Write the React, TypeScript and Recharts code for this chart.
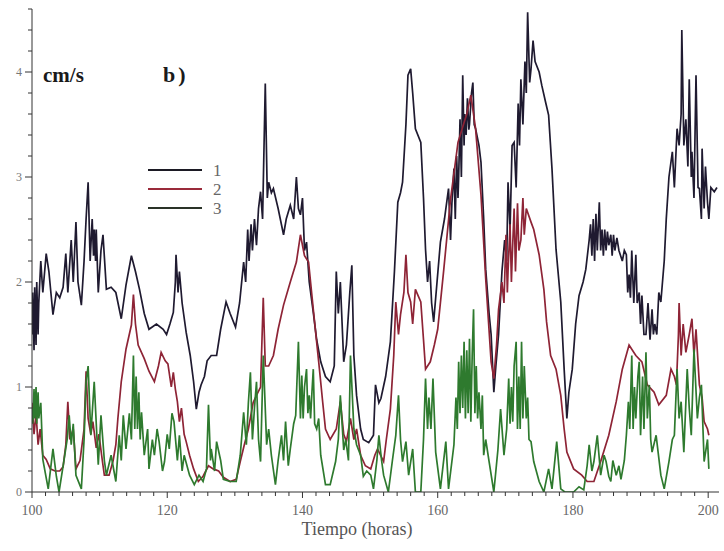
import React from "react";
import { LineChart, Line, XAxis, YAxis } from "recharts";

// time (hours) , speed (cm/s)
const series1: [number, number][] = [
  [100.0, 1.5], [100.1, 1.9], [100.3, 1.35], [100.4, 1.95], [100.6, 1.4], [100.7, 2.0], [100.9, 1.5], [101.0, 1.8],
  [101.3, 2.2], [101.6, 1.9], [102.1, 2.27], [102.5, 2.1], [103.1, 1.69], [103.6, 1.9], [104.1, 1.85], [104.6, 1.95],
  [105.0, 2.27], [105.3, 1.9], [105.8, 2.4], [106.1, 2.0], [106.5, 2.57], [106.8, 2.0], [107.3, 1.78], [107.7, 2.2],
  [108.0, 2.6], [108.3, 2.95], [108.6, 2.2], [108.9, 2.6], [109.1, 2.25], [109.2, 2.5], [109.4, 2.2], [109.5, 2.5],
  [109.8, 1.9], [110.2, 2.3], [110.5, 2.45], [111.0, 1.93], [111.7, 1.95], [112.4, 1.9], [113.2, 1.65], [113.9, 1.97],
  [114.7, 2.25], [115.3, 2.1], [115.9, 1.93], [116.6, 1.7], [117.3, 1.55], [118.4, 1.6], [119.4, 1.55], [119.9, 1.5],
  [120.4, 1.6], [120.9, 1.71], [121.2, 2.0], [121.3, 2.26], [121.6, 1.9], [121.8, 2.1], [122.2, 1.8], [122.8, 1.52],
  [123.4, 1.3], [123.9, 1.05], [124.3, 0.79], [124.7, 0.95], [125.0, 1.02], [125.5, 1.1], [125.9, 1.25], [126.5, 1.3],
  [127.3, 1.3], [127.9, 1.55], [128.7, 1.81], [129.3, 1.7], [130.1, 1.57], [130.7, 1.8], [131.3, 2.19], [131.6, 2.0],
  [131.9, 2.5], [132.1, 2.2], [132.4, 2.55], [132.6, 2.3], [132.9, 2.6], [133.2, 2.35], [133.5, 2.7], [133.8, 2.86],
  [134.1, 2.6], [134.5, 3.89], [134.8, 2.8], [135.0, 2.95], [135.4, 2.85], [135.7, 2.89], [136.4, 2.7], [137.2, 2.45],
  [137.6, 2.6], [138.2, 2.73], [138.7, 2.6], [139.1, 3.0], [139.4, 2.7], [139.7, 2.64], [140.0, 2.8], [140.3, 2.3],
  [140.6, 2.38], [141.0, 2.0], [141.6, 1.71], [142.1, 1.45], [142.7, 1.24], [143.4, 1.1], [144.1, 1.05], [144.7, 1.2],
  [145.0, 2.1], [145.3, 1.7], [145.6, 2.0], [146.1, 1.24], [146.5, 1.4], [147.0, 1.9], [147.3, 2.16], [147.6, 1.3],
  [148.0, 0.92], [148.6, 0.6], [149.0, 0.5], [149.8, 0.47], [150.5, 0.54], [150.8, 1.02], [151.3, 0.85], [151.6, 0.89],
  [152.3, 1.1], [153.0, 1.43], [153.6, 2.1], [154.1, 2.76], [154.5, 2.85], [154.8, 2.95], [155.3, 3.5], [155.6, 3.97],
  [156.0, 4.03], [156.3, 3.8], [156.7, 3.46], [157.5, 3.33], [157.9, 2.8], [158.2, 2.31], [158.5, 2.0], [158.8, 2.2],
  [159.1, 1.8], [159.4, 1.62], [159.9, 2.0], [160.4, 2.38], [161.0, 2.6], [161.6, 2.89], [161.9, 2.4], [162.1, 2.75],
  [162.4, 3.08], [162.6, 2.6], [162.8, 3.2], [163.0, 2.8], [163.1, 3.0], [163.3, 3.55], [163.5, 3.0], [163.7, 3.97],
  [163.9, 3.3], [164.0, 3.6], [164.2, 3.4], [164.4, 3.75], [164.6, 3.45], [164.7, 3.5], [165.0, 3.8], [165.2, 3.9],
  [165.4, 3.5], [165.6, 3.46], [166.1, 3.3], [166.4, 3.14], [166.8, 2.6], [167.1, 2.12], [167.6, 1.7], [167.9, 1.5],
  [168.3, 0.95], [168.6, 1.2], [169.0, 1.5], [169.5, 2.1], [169.9, 2.4], [170.2, 2.2], [170.4, 2.95], [170.7, 2.5],
  [171.0, 3.3], [171.3, 3.33], [171.6, 2.9], [171.9, 3.7], [172.1, 3.3], [172.3, 3.93], [172.6, 3.5], [172.9, 4.1],
  [173.1, 3.8], [173.3, 4.57], [173.6, 3.9], [173.8, 4.03], [174.1, 4.3], [174.4, 4.1], [175.0, 4.0], [175.4, 3.87],
  [176.0, 3.7], [176.4, 3.59], [176.9, 3.08], [177.5, 2.31], [178.2, 1.81], [178.7, 1.17], [179.1, 0.7], [179.4, 0.95],
  [179.9, 1.17], [180.4, 1.6], [180.9, 1.87], [181.5, 2.0], [181.9, 2.12], [182.4, 2.4], [182.6, 2.55], [182.8, 2.25],
  [183.0, 2.6], [183.2, 2.2], [183.4, 2.65], [183.6, 2.3], [183.9, 2.76], [184.1, 2.3], [184.3, 2.5], [184.5, 2.25],
  [184.7, 2.5], [184.9, 2.3], [185.1, 2.48], [185.3, 2.35], [185.6, 2.45], [185.8, 2.25], [186.0, 2.45], [186.2, 2.3],
  [186.5, 2.42], [186.8, 2.3], [187.3, 2.2], [187.6, 2.3], [187.9, 2.26], [188.1, 1.9], [188.3, 2.07], [188.5, 1.85],
  [188.7, 2.3], [189.0, 1.8], [189.3, 2.26], [189.5, 1.8], [189.8, 1.9], [190.0, 1.6], [190.2, 1.87], [190.5, 1.5],
  [190.8, 1.5], [191.1, 1.8], [191.4, 1.45], [191.7, 1.74], [191.9, 1.5], [192.1, 1.6], [192.4, 1.5], [192.7, 1.9],
  [193.0, 1.81], [193.5, 2.2], [193.8, 2.6], [194.2, 3.0], [194.7, 3.24], [195.0, 2.9], [195.4, 3.46], [195.7, 3.3],
  [196.0, 3.6], [196.1, 4.4], [196.4, 3.3], [196.7, 3.55], [197.0, 3.1], [197.2, 3.93], [197.5, 3.0], [197.6, 3.24],
  [197.9, 2.8], [198.2, 3.97], [198.5, 2.9], [198.7, 2.89], [199.0, 2.6], [199.1, 3.27], [199.4, 2.7], [199.6, 3.1],
  [199.9, 2.76], [200.1, 2.6], [200.4, 2.9], [200.9, 2.86], [201.3, 2.9],
];

const series2: [number, number][] = [
  [100.0, 0.85], [100.3, 0.55], [100.6, 0.75], [100.9, 0.45], [101.2, 0.6], [101.6, 0.35], [102.1, 0.31], [102.7, 0.22],
  [103.4, 0.2], [104.1, 0.2], [104.6, 0.24], [105.0, 0.45], [105.3, 0.86], [105.6, 0.5], [106.1, 0.6], [106.5, 0.22],
  [107.1, 0.3], [107.7, 0.6], [108.0, 1.15], [108.3, 0.7], [108.7, 0.55], [109.0, 0.67], [109.5, 0.42], [109.9, 0.55],
  [110.4, 0.3], [110.7, 0.16], [111.4, 0.16], [112.0, 0.3], [112.4, 0.45], [112.7, 0.7], [113.2, 1.05], [113.9, 1.36],
  [114.7, 1.59], [115.0, 1.88], [115.3, 1.6], [115.7, 1.4], [116.6, 1.27], [117.3, 1.15], [118.1, 1.05], [118.7, 1.2],
  [119.1, 1.33], [119.7, 1.25], [120.1, 1.22], [120.6, 1.0], [120.9, 1.14], [121.2, 0.98], [121.5, 0.86], [121.8, 0.67],
  [122.1, 0.8], [122.5, 0.55], [122.8, 0.48], [123.3, 0.35], [123.9, 0.22], [124.6, 0.1], [125.3, 0.15], [126.1, 0.25],
  [126.8, 0.22], [127.6, 0.2], [128.3, 0.14], [129.3, 0.1], [130.2, 0.12], [130.8, 0.29], [131.4, 0.45], [132.0, 0.6],
  [132.7, 0.85], [133.2, 0.92], [133.8, 1.0], [134.2, 1.85], [134.5, 1.2], [135.0, 1.2], [135.7, 1.3], [136.4, 1.55],
  [137.2, 1.78], [138.2, 2.0], [139.1, 2.19], [139.7, 2.45], [140.3, 2.25], [140.9, 2.19], [141.6, 1.74], [142.4, 1.24],
  [143.0, 0.85], [143.4, 0.6], [144.1, 0.5], [145.0, 0.6], [145.6, 0.86], [146.1, 0.55], [146.5, 0.48], [147.1, 0.7],
  [147.6, 0.5], [148.0, 0.6], [148.6, 0.35], [149.3, 0.25], [150.1, 0.22], [150.7, 0.35], [151.1, 0.41], [152.0, 0.29],
  [152.4, 0.5], [153.0, 0.79], [153.5, 1.3], [153.8, 1.81], [154.2, 1.5], [154.5, 1.69], [155.0, 1.9], [155.3, 2.26],
  [155.6, 1.9], [156.0, 1.81], [156.3, 1.6], [156.7, 1.93], [157.5, 1.81], [157.9, 1.45], [158.2, 1.17], [158.9, 1.24],
  [159.5, 1.4], [160.0, 1.55], [160.9, 2.12], [161.9, 2.79], [163.0, 3.33], [163.9, 3.52], [164.3, 3.6], [164.9, 3.78],
  [165.6, 3.46], [166.4, 2.83], [167.1, 2.03], [167.9, 1.24], [168.3, 1.08], [168.7, 1.4], [169.0, 1.74], [169.5, 2.0],
  [169.8, 1.8], [170.1, 2.45], [170.3, 1.9], [170.4, 2.1], [170.7, 2.55], [170.9, 2.0], [171.0, 2.2], [171.3, 2.7],
  [171.5, 2.1], [171.6, 2.3], [171.8, 2.75], [172.0, 2.3], [172.3, 2.4], [172.6, 2.8], [172.8, 2.45], [173.1, 2.7],
  [173.8, 2.57], [174.2, 2.5], [175.0, 2.26], [175.7, 1.93], [176.1, 1.62], [176.7, 1.3], [177.5, 1.17], [178.2, 0.92],
  [178.7, 0.6], [179.1, 0.38], [180.1, 0.22], [181.3, 0.16], [182.1, 0.1], [183.1, 0.1], [184.1, 0.29], [185.3, 0.54],
  [186.4, 0.86], [187.3, 1.17], [188.3, 1.4], [189.3, 1.3], [190.2, 1.24], [191.0, 1.02], [192.0, 0.95], [192.7, 0.83],
  [193.8, 0.92], [194.5, 1.17], [195.0, 1.1], [195.3, 1.02], [195.6, 1.5], [195.7, 1.8], [196.0, 1.3], [196.3, 1.6],
  [196.7, 1.33], [197.2, 1.5], [197.6, 1.65], [197.9, 1.3], [198.2, 1.55], [198.7, 1.02], [199.1, 0.9], [199.4, 0.67],
  [199.9, 0.6], [200.1, 0.54],
];

const series3: [number, number][] = [
  [100.0, 0.8], [100.1, 0.65], [100.3, 0.98], [100.4, 0.7], [100.6, 1.0], [100.7, 0.65], [100.9, 0.95], [101.0, 0.7],
  [101.3, 0.85], [101.6, 0.31], [102.4, 0.03], [103.1, 0.41], [103.6, 0.15], [104.0, 0.0], [104.7, 0.29], [105.2, 0.5],
  [105.5, 0.73], [105.8, 0.45], [106.1, 0.65], [106.5, 0.16], [107.3, 0.03], [107.7, 0.5], [108.0, 1.05], [108.3, 1.2],
  [108.7, 0.54], [109.2, 1.05], [109.8, 0.26], [110.2, 0.73], [110.7, 0.3], [111.0, 0.16], [111.7, 0.35], [112.4, 0.1],
  [112.9, 0.54], [113.2, 0.3], [113.5, 0.73], [113.9, 0.41], [114.4, 0.75], [114.7, 0.5], [115.0, 1.3], [115.2, 0.6],
  [115.4, 1.1], [115.6, 0.6], [115.8, 0.95], [116.0, 0.5], [116.2, 0.76], [116.6, 0.35], [117.1, 0.6], [117.3, 0.22],
  [117.8, 0.5], [118.1, 0.35], [118.5, 0.6], [118.8, 0.48], [119.3, 0.2], [119.6, 0.29], [120.0, 0.55], [120.3, 0.41],
  [120.7, 0.75], [121.0, 0.67], [121.5, 0.3], [121.8, 0.54], [122.2, 0.2], [122.5, 0.35], [123.3, 0.16], [124.0, 0.07],
  [124.7, 0.16], [125.3, 0.1], [125.8, 0.22], [126.1, 0.83], [126.4, 0.3], [126.5, 0.41], [127.0, 0.2], [127.3, 0.48],
  [127.9, 0.3], [128.3, 0.12], [129.3, 0.1], [130.2, 0.1], [130.8, 0.35], [131.3, 0.76], [131.7, 0.45], [132.0, 0.85],
  [132.3, 1.14], [132.6, 0.5], [132.9, 0.8], [133.2, 1.05], [133.5, 0.5], [133.8, 0.29], [134.2, 1.3], [134.7, 0.45],
  [135.0, 0.6], [135.4, 0.35], [136.0, 0.07], [136.4, 0.3], [136.9, 0.54], [137.2, 0.3], [137.5, 0.67], [137.9, 0.25],
  [138.2, 0.41], [138.7, 0.65], [139.0, 0.73], [139.4, 1.43], [139.7, 0.7], [139.9, 1.11], [140.1, 0.7], [140.3, 1.0],
  [140.6, 1.17], [140.8, 0.75], [141.0, 0.92], [141.2, 0.7], [141.4, 0.95], [141.6, 1.17], [141.8, 0.65], [142.1, 0.6],
  [142.4, 0.7], [142.7, 0.35], [143.4, 0.07], [144.1, 0.07], [144.9, 0.29], [145.3, 0.5], [145.6, 0.92], [146.1, 0.4],
  [146.4, 0.5], [146.8, 0.3], [147.1, 1.3], [147.6, 0.6], [148.0, 0.45], [148.6, 0.35], [149.0, 0.15], [149.5, 0.2],
  [150.1, 0.16], [150.5, 0.03], [151.0, 0.3], [151.3, 0.54], [151.7, 0.3], [152.0, 0.16], [152.7, 0.0], [153.3, 0.3],
  [153.8, 0.54], [154.2, 0.92], [154.5, 0.5], [154.8, 0.29], [155.3, 0.48], [155.7, 0.16], [156.3, 0.41], [156.7, 0.0],
  [157.5, 0.0], [157.9, 0.5], [158.2, 1.08], [158.5, 0.6], [158.7, 0.9], [159.0, 0.6], [159.3, 1.08], [159.7, 0.38],
  [160.4, 0.03], [161.2, 0.48], [161.6, 0.03], [162.4, 0.45], [162.7, 0.9], [162.9, 0.6], [163.1, 1.24], [163.3, 0.75],
  [163.5, 1.3], [163.7, 0.8], [163.9, 1.43], [164.1, 0.7], [164.3, 1.35], [164.5, 0.75], [164.7, 1.46], [164.9, 0.67],
  [165.1, 1.3], [165.3, 1.74], [165.5, 0.75], [165.7, 1.2], [165.9, 0.7], [166.1, 0.95], [166.4, 0.6], [166.6, 0.92],
  [166.8, 0.35], [167.1, 0.5], [167.6, 0.29], [168.3, 0.0], [168.9, 0.4], [169.3, 0.79], [169.8, 0.35], [170.2, 0.6],
  [170.5, 1.08], [170.7, 0.65], [170.9, 1.0], [171.1, 0.67], [171.3, 1.2], [171.6, 1.43], [171.8, 0.6], [172.0, 1.1],
  [172.2, 0.6], [172.4, 1.43], [172.6, 0.7], [172.8, 1.2], [173.1, 0.7], [173.3, 0.9], [173.5, 0.5], [173.8, 0.48],
  [174.2, 0.29], [175.0, 0.1], [175.7, 0.0], [176.4, 0.22], [176.9, 0.03], [177.6, 0.48], [178.2, 0.03], [178.8, 0.0],
  [180.1, 0.0], [180.9, 0.05], [181.6, 0.02], [182.1, 0.25], [182.4, 0.45], [182.8, 0.2], [183.1, 0.29], [183.6, 0.54],
  [184.1, 0.16], [184.6, 0.35], [184.9, 0.29], [185.3, 0.15], [185.6, 0.1], [185.9, 0.3], [186.4, 0.16], [186.8, 0.25],
  [187.1, 0.12], [187.6, 0.3], [187.9, 0.54], [188.2, 0.86], [188.4, 0.6], [188.7, 1.3], [188.9, 0.6], [189.1, 1.0],
  [189.3, 0.7], [189.6, 1.1], [189.8, 1.24], [190.0, 0.54], [190.3, 1.1], [190.5, 0.6], [190.8, 1.33], [191.0, 0.7],
  [191.3, 1.02], [191.5, 0.5], [191.7, 0.38], [192.3, 0.54], [193.0, 0.16], [193.5, 0.03], [194.2, 0.29], [194.7, 0.5],
  [195.0, 0.54], [195.4, 1.17], [195.7, 0.7], [196.0, 0.86], [196.4, 0.38], [196.9, 1.17], [197.2, 0.8], [197.5, 0.54],
  [197.9, 1.36], [198.4, 0.7], [198.7, 0.9], [199.0, 1.02], [199.4, 0.29], [199.9, 0.5], [200.1, 0.22],
];

const xTicks: number[] = [];
for (let h = 100; h <= 200; h += 2) xTicks.push(h);
const xLabels = [100, 120, 140, 160, 180, 200];
const yTicks: number[] = [];
for (let i = 0; i <= 23; i++) yTicks.push(Math.round(i * 2) / 10);
const yLabels = [0, 1, 2, 3, 4];

const legendItems = [
  { name: "1", color: "#1c1a24" },
  { name: "2", color: "#9a2a3a" },
  { name: "3", color: "#2a3328" },
];

const toPoints = (s: [number, number][]) => s.map(([t, v]) => ({ t, v }));

const SERIF = "'Liberation Serif', 'DejaVu Serif', 'Times New Roman', serif";

const XTick = (props: any) => {
  const { x, y, payload } = props;
  const val = payload.value;
  const major = xLabels.includes(val);
  return (
    <g>
      <line x1={x} x2={x} y1={y} y2={y + (major ? 6 : 4)} stroke="#333" strokeWidth={1} />
      {major && (
        <text x={x} y={y + 23} textAnchor="middle" fontFamily={SERIF} fontSize={14} fill="#666">
          {val}
        </text>
      )}
    </g>
  );
};

const YTick = (props: any) => {
  const { x, y, payload } = props;
  const val = payload.value;
  const major = yLabels.some((l) => Math.abs(l - val) < 1e-6);
  return (
    <g>
      <line x1={x - (major ? 7 : 4)} x2={x} y1={y} y2={y} stroke="#333" strokeWidth={1} />
      {major && (
        <text x={x - 10} y={y + 4} textAnchor="end" fontFamily={SERIF} fontSize={12} fill="#777">
          {Math.round(val)}
        </text>
      )}
    </g>
  );
};

export default function App() {
  return (
    <div style={{ position: "absolute", left: 0, top: 0, width: 724, height: 551, background: "#fff", overflow: "hidden" }}>
      <LineChart width={724} height={551} margin={{ top: 9, right: 5, bottom: 0, left: 0 }}>
        <XAxis
          type="number"
          dataKey="t"
          domain={[100, 201.6]}
          ticks={xTicks}
          interval={0}
          tick={<XTick />}
          tickLine={false}
          tickSize={0}
          tickMargin={0}
          height={59}
          axisLine={{ stroke: "#333", strokeWidth: 1 }}
          allowDataOverflow
        />
        <YAxis
          type="number"
          domain={[0, 4.6]}
          ticks={yTicks}
          interval={0}
          tick={<YTick />}
          tickLine={false}
          tickSize={0}
          tickMargin={0}
          width={32}
          axisLine={{ stroke: "#333", strokeWidth: 1 }}
          allowDataOverflow
        />
        <Line data={toPoints(series1)} dataKey="v" type="linear" stroke="#1f1a30" strokeWidth={1.7} dot={false} isAnimationActive={false} />
        <Line data={toPoints(series2)} dataKey="v" type="linear" stroke="#8e2436" strokeWidth={1.7} dot={false} isAnimationActive={false} />
        <Line data={toPoints(series3)} dataKey="v" type="linear" stroke="#2e7a2e" strokeWidth={1.7} dot={false} isAnimationActive={false} />
      </LineChart>
      <svg width={724} height={551} style={{ position: "absolute", left: 0, top: 0, pointerEvents: "none" }}>
        <text x={43} y={82} fontFamily={SERIF} fontWeight="bold" fontSize={21} fill="#1a1a1a">cm/s</text>
        <text x={163} y={82} fontFamily={SERIF} fontWeight="bold" fontSize={22} fill="#1a1a1a">
          <tspan>b</tspan>
          <tspan dx={3}>)</tspan>
        </text>
        {legendItems.map((it, i) => (
          <g key={it.name}>
            <line x1={148} x2={202} y1={170 + i * 19} y2={170 + i * 19} stroke={it.color} strokeWidth={2} />
            <text x={213} y={176 + i * 19} fontFamily={SERIF} fontSize={17} fill="#666">{it.name}</text>
          </g>
        ))}
        <text x={357} y={535} textAnchor="middle" fontFamily={SERIF} fontSize={18} fill="#555">Tiempo (horas)</text>
      </svg>
    </div>
  );
}
